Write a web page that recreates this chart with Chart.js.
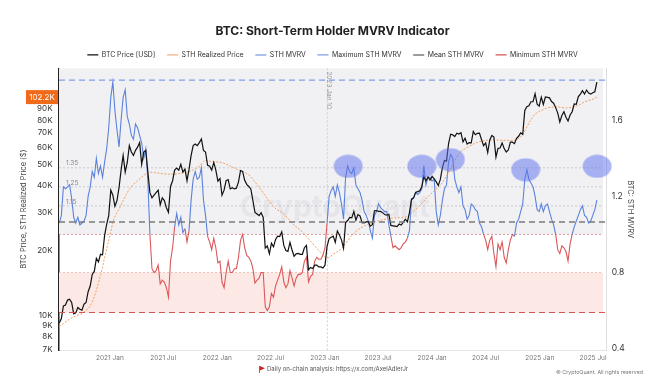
<!DOCTYPE html>
<html>
<head>
<meta charset="utf-8">
<script src="https://cdn.jsdelivr.net/npm/chart.js@4.4.1/dist/chart.umd.min.js"></script>
<style>
  html, body { margin: 0; padding: 0; background: #fff; }
  #wrap { width: 665px; height: 388px; }
</style>
</head>
<body>
<div id="wrap"><canvas id="mvrvChart" width="665" height="388"></canvas></div>
<script>
// === Data ===
// weekly samples (Mondays), first week 2020-07-13
const weekStart = '2020-07-13';

const btcPrice = [
  // 2020
  9250, 9700, 11100, 11200, 11800, 11900, 11500, 10200, 10300, 10900, 10700, 10600,
  11300, 11500, 12900, 13700, 15500, 16000, 18400, 17700, 19200, 19100, 23500, 26400, 29000,
  // 2021
  38000, 36000, 32000, 34000, 39000, 47000, 55000, 46000, 51000, 61000, 57000, 55000, 58000,
  60000, 63000, 50000, 57000, 58000, 46000, 37000, 35000, 36000, 37000, 38000, 32500, 35000,
  34000, 31500, 30000, 39500, 42000, 47000, 48000, 47000, 50000, 46000, 47500, 42000, 47500,
  55000, 61000, 62000, 61000, 63000, 65500, 58000, 57000, 49500, 49000, 47000, 51000, 47000,
  // 2022
  41800, 43000, 36000, 38000, 42000, 42500, 38500, 39000, 38500, 38800, 41500, 46800, 46400,
  42200, 40400, 39500, 38500, 34000, 30000, 29500, 29000, 29900, 28400, 20500, 21000, 19300,
  21600, 20800, 22500, 23300, 23200, 24400, 21100, 20000, 19800, 21800, 20100, 18800, 19300,
  19400, 19200, 19200, 20600, 21100, 16300, 16700, 16500, 17100, 17100, 16800, 16800, 16600,
  // 2023
  17100, 20900, 22700, 23000, 23300, 21800, 24600, 23600, 22400, 20500, 26900, 27500, 28400,
  28300, 30300, 27600, 29300, 28900, 26900, 26800, 27100, 27200, 25900, 26300, 30500, 30600,
  30300, 30300, 29900, 29300, 29100, 29400, 26100, 26000, 25900, 25800, 26500, 26200, 27000,
  27900, 27100, 29900, 34500, 35000, 37100, 37400, 37700, 39400, 44000, 41900, 43700, 42300,
  // 2024
  44000, 42800, 41500, 39900, 42600, 48300, 52100, 51700, 62400, 68900, 68400, 67200, 69600,
  69000, 70000, 63500, 66000, 62000, 63000, 62900, 71000, 68500, 69500, 69600, 65000, 61000,
  62800, 56700, 64800, 68000, 66800, 54000, 59300, 59500, 62800, 59100, 57000, 58200, 63300,
  63300, 62300, 66000, 67400, 69900, 68800, 88700, 92300, 93100, 97300, 97400, 106000, 94700, 92800,
  // 2025
  102100, 94500, 102300, 102000, 101400, 97500, 95800, 91400, 86200, 78500, 84000, 87500,
  82500, 79200, 84500, 87500, 95000, 94700, 102800, 105600, 109500, 105700, 110200, 106800,
  105500, 107100, 108200, 119800
];

const sthMvrv = [
  // 2020
  1.06, 1.10, 1.25, 1.24, 1.25, 1.26, 1.19, 1.09, 1.06, 1.09, 1.05, 1.06,
  1.07, 1.10, 1.20, 1.25, 1.33, 1.30, 1.40, 1.32, 1.36, 1.30, 1.38, 1.45, 1.56,
  // 2021
  1.72, 1.80, 1.65, 1.55, 1.46, 1.60, 1.72, 1.76, 1.62, 1.58, 1.52, 1.50, 1.58,
  1.56, 1.52, 1.48, 1.40, 1.45, 1.28, 1.00, 0.82, 0.80, 0.81, 0.84, 0.74, 0.76,
  0.75, 0.72, 0.67, 0.86, 0.93, 1.04, 1.11, 1.05, 1.09, 1.01, 1.03, 0.96, 1.02,
  1.18, 1.29, 1.33, 1.29, 1.30, 1.35, 1.18, 1.10, 0.99, 0.96, 0.92, 0.98, 0.93,
  // 2022
  0.85, 0.86, 0.75, 0.72, 0.80, 0.86, 0.80, 0.80, 0.82, 0.82, 0.88, 0.97, 1.00,
  0.93, 0.89, 0.88, 0.86, 0.82, 0.745, 0.76, 0.77, 0.80, 0.80, 0.62, 0.60, 0.62,
  0.69, 0.67, 0.73, 0.76, 0.79, 0.83, 0.75, 0.72, 0.74, 0.81, 0.77, 0.73, 0.77,
  0.79, 0.79, 0.80, 0.86, 0.88, 0.75, 0.78, 0.79, 0.86, 0.88, 0.87, 0.87, 0.89,
  // 2023
  0.93, 1.06, 1.20, 1.23, 1.25, 1.20, 1.26, 1.22, 1.16, 1.08, 1.30, 1.36, 1.33,
  1.32, 1.35, 1.26, 1.24, 1.22, 1.18, 1.12, 1.10, 1.07, 1.02, 0.98, 1.10, 1.12,
  1.16, 1.14, 1.13, 1.12, 1.12, 1.05, 0.99, 0.93, 0.94, 0.93, 0.92, 0.93, 0.95,
  0.96, 0.98, 1.02, 1.18, 1.19, 1.22, 1.21, 1.22, 1.24, 1.36, 1.26, 1.30, 1.30,
  // 2024
  1.28, 1.29, 1.12, 1.05, 1.10, 1.18, 1.24, 1.26, 1.38, 1.42, 1.40, 1.29, 1.25,
  1.22, 1.25, 1.15, 1.13, 1.08, 1.10, 1.16, 1.15, 1.13, 1.12, 1.06, 1.04, 1.00,
  0.97, 0.92, 0.97, 0.99, 0.90, 0.83, 0.95, 0.92, 0.96, 0.88, 0.85, 0.92, 0.97,
  1.00, 0.99, 1.06, 1.08, 1.12, 1.16, 1.29, 1.34, 1.29, 1.27, 1.25, 1.20, 1.13, 1.12,
  // 2025
  1.16, 1.12, 1.15, 1.16, 1.12, 1.08, 1.05, 1.00, 0.92, 0.90, 0.94, 0.93,
  0.91, 0.86, 0.95, 1.00, 1.04, 1.07, 1.10, 1.13, 1.15, 1.10, 1.09, 1.06,
  1.07, 1.10, 1.13, 1.18
];

const rpDates = [
  '2020-07-13', '2020-08-01', '2020-09-01', '2020-10-01', '2020-11-01', '2020-12-01', '2020-12-15',
  '2021-01-01', '2021-01-15', '2021-02-01', '2021-02-15', '2021-03-01', '2021-03-15', '2021-04-01',
  '2021-04-15', '2021-05-01', '2021-05-15', '2021-06-01', '2021-07-01', '2021-08-01', '2021-09-01',
  '2021-10-01', '2021-11-01', '2021-11-20', '2021-12-15', '2022-01-15', '2022-02-15', '2022-03-15',
  '2022-04-15', '2022-05-15', '2022-06-15', '2022-07-15', '2022-08-15', '2022-09-15', '2022-10-15',
  '2022-11-15', '2022-12-15', '2023-01-10', '2023-02-01', '2023-03-01', '2023-04-01', '2023-05-01',
  '2023-06-01', '2023-07-01', '2023-08-01', '2023-09-01', '2023-10-01', '2023-11-01', '2023-12-01',
  '2024-01-01', '2024-02-01', '2024-03-01', '2024-04-01', '2024-05-01', '2024-06-01', '2024-07-01',
  '2024-08-01', '2024-09-01', '2024-10-01', '2024-11-01', '2024-12-01', '2024-12-15', '2025-01-01',
  '2025-02-01', '2025-03-01', '2025-04-01', '2025-05-01', '2025-05-15', '2025-06-01', '2025-07-01',
  '2025-07-14'
];
const rpValues = [
  8900, 9300, 9900, 10300, 11500, 15500, 18800,
  23500, 28000, 31000, 34000, 37000, 39500, 41500,
  43200, 45000, 46000, 45800, 45200, 45000, 45500,
  46500, 49000, 52000, 51500, 51000, 49000, 47000,
  45000, 40500, 35500, 31500, 29500, 26500, 24500,
  22000, 19800, 18500, 19300, 20500, 23300, 25300,
  26500, 27400, 28000, 28300, 28500, 30500, 33500,
  37000, 40500, 47000, 56000, 60000, 63000, 64500,
  64800, 64500, 64500, 68000, 80000, 85000, 88000,
  91500, 92000, 91000, 92500, 94000, 97000, 100000,
  102200
];

// reference levels of STH MVRV
const maxMvrv = 1.81;
const meanMvrv = 1.065;
const minMvrv = 0.59;
const dottedLevels = [1.35, 1.25, 1.15];

// highlighted tops (date, mvrv)
const highlightDates = ['2023-03-22', '2023-11-27', '2024-03-03', '2024-11-14', '2025-07-15'];
const highlightValues = [1.358, 1.358, 1.393, 1.34, 1.358];

const markerDate = '2023-01-10';

const xTickDates = ['2021-01-01', '2021-07-01', '2022-01-01', '2022-07-01', '2023-01-01',
  '2023-07-01', '2024-01-01', '2024-07-01', '2025-01-01', '2025-07-01'];
const xTickLabels = ['2021 Jan', '2021 Jul', '2022 Jan', '2022 Jul', '2023 Jan',
  '2023 Jul', '2024 Jan', '2024 Jul', '2025 Jan', '2025 Jul'];
const priceTicks = [7000, 8000, 9000, 10000, 20000, 30000, 40000, 50000, 60000, 70000, 80000, 90000];
const mvrvTicks = [0.4, 0.8, 1.2, 1.6];

// === Preparation ===
const DAY = 86400000;
const t0 = Date.parse(weekStart);
const weekDates = btcPrice.map((_, i) => t0 + i * 7 * DAY);
const xMin = Date.parse('2020-07-12');
const xMax = Date.parse('2025-08-14');

const BLUE = '#5a82dc';
const RED = '#d9585a';

// ellipse used for the highlight marks
const ellipse = document.createElement('canvas');
ellipse.width = 30; ellipse.height = 24;
(() => {
  const c = ellipse.getContext('2d');
  c.fillStyle = 'rgba(92,112,236,0.5)';
  c.beginPath();
  c.ellipse(15, 12, 14.5, 11.5, 0, 0, Math.PI * 2);
  c.fill();
})();

// === Plugin: bands, dotted levels, watermark, labels ===
const decorPlugin = {
  id: 'decor',
  beforeDatasetsDraw(chart) {
    const { ctx, chartArea: a, scales } = chart;
    const yr = scales.y1;
    const py = v => yr.getPixelForValue(v);
    ctx.save();
    // gray band above 1.0
    ctx.fillStyle = '#f1f1f4';
    ctx.fillRect(a.left, a.top, a.right - a.left - 3, py(1.0) - a.top);
    // pink band between 0.8 and the minimum
    ctx.fillStyle = '#fce9e5';
    ctx.fillRect(a.left, py(0.8), a.right - a.left - 3, py(minMvrv) - py(0.8));

    ctx.lineWidth = 1;
    ctx.setLineDash([2, 2]);
    dottedLevels.forEach(v => {
      ctx.strokeStyle = '#c9c9ce';
      ctx.beginPath(); ctx.moveTo(a.left, py(v)); ctx.lineTo(a.right - 3, py(v)); ctx.stroke();
    });
    ctx.strokeStyle = '#e39a9a';
    ctx.beginPath(); ctx.moveTo(a.left, py(1.0)); ctx.lineTo(a.right - 3, py(1.0)); ctx.stroke();
    ctx.strokeStyle = '#eec3bb';
    ctx.beginPath(); ctx.moveTo(a.left, py(0.8)); ctx.lineTo(a.right - 3, py(0.8)); ctx.stroke();

    // vertical marker 2023 Jan 10
    const mx = scales.x.getPixelForValue(Date.parse(markerDate));
    ctx.strokeStyle = '#cfcfcf';
    ctx.beginPath(); ctx.moveTo(mx, a.top); ctx.lineTo(mx, a.bottom); ctx.stroke();
    ctx.setLineDash([]);

    ctx.fillStyle = '#8a8a8a';
    ctx.font = '6.5px Inter';
    ctx.textAlign = 'left';
    ctx.textBaseline = 'bottom';
    dottedLevels.forEach(v => ctx.fillText(v.toFixed(2), a.left + 7, py(v) - 1));

    ctx.save();
    ctx.translate(mx + 2, a.top + 3);
    ctx.rotate(Math.PI / 2);
    ctx.textBaseline = 'middle';
    ctx.fillStyle = '#999';
    ctx.fillText('2023 Jan 10', 0, 0);
    ctx.restore();

    // watermark
    ctx.font = 'bold 30px Inter';
    ctx.fillStyle = 'rgba(175,175,185,0.17)';
    ctx.textAlign = 'center';
    ctx.textBaseline = 'middle';
    ctx.fillText('CryptoQuant', 335, 208);
    ctx.restore();
  },
  afterDraw(chart) {
    const { ctx, scales } = chart;
    ctx.save();
    // current STH realized price tag
    const last = rpValues[rpValues.length - 1];
    const ty = scales.y.getPixelForValue(last);
    ctx.fillStyle = '#f06a1a';
    ctx.fillRect(26, ty - 7, 32, 14);
    ctx.fillStyle = '#fff';
    ctx.font = '8px Inter';
    ctx.textAlign = 'center';
    ctx.textBaseline = 'middle';
    ctx.fillText((last / 1000).toFixed(1) + 'K', 42, ty + 0.5);

    // footer
    ctx.fillStyle = '#d02020';
    ctx.fillRect(259, 366, 0.8, 7);
    ctx.beginPath(); ctx.moveTo(259.8, 366); ctx.lineTo(265, 368.2); ctx.lineTo(259.8, 370.4); ctx.fill();
    ctx.fillStyle = '#555';
    ctx.font = '6px Inter';
    ctx.textAlign = 'left';
    ctx.fillText('Daily on-chain analysis: https://x.com/AxelAdlerJr', 267, 369.5);
    ctx.fillStyle = '#777';
    ctx.font = '5.3px Inter';
    ctx.fillText('© CryptoQuant. All rights reserved', 556, 372);
    ctx.restore();
  }
};

Chart.defaults.font.family = 'Inter, Roboto, sans-serif';

new Chart(document.getElementById('mvrvChart'), {
  type: 'line',
  data: {
    datasets: [
      {
        label: 'BTC Price [USD]',
        data: btcPrice.map((v, i) => ({ x: weekDates[i], y: v })),
        yAxisID: 'y',
        borderColor: '#111',
        borderWidth: 1.2,
        pointRadius: 0,
        pointStyle: 'line',
        order: 2
      },
      {
        label: 'STH Realized Price',
        data: rpValues.map((v, i) => ({ x: Date.parse(rpDates[i]), y: v })),
        yAxisID: 'y',
        borderColor: '#f0a062',
        borderWidth: 1,
        borderDash: [2, 1.5],
        pointRadius: 0,
        pointStyle: 'line',
        cubicInterpolationMode: 'monotone',
        order: 3
      },
      {
        label: 'STH MVRV',
        data: sthMvrv.map((v, i) => ({ x: weekDates[i], y: v })),
        yAxisID: 'y1',
        borderColor: BLUE,
        borderWidth: 1.1,
        pointRadius: 0,
        pointStyle: 'line',
        segment: {
          borderColor: c => ((c.p0.parsed.y + c.p1.parsed.y) / 2 < 1 ? RED : BLUE)
        },
        order: 4
      },
      {
        label: 'Maximum STH MVRV',
        data: [{ x: xMin, y: maxMvrv }, { x: xMax, y: maxMvrv }],
        yAxisID: 'y1',
        borderColor: '#7f9fe6',
        borderWidth: 1.2,
        borderDash: [6, 4],
        pointRadius: 0,
        pointStyle: 'line',
        order: 1
      },
      {
        label: 'Mean STH MVRV',
        data: [{ x: xMin, y: meanMvrv }, { x: xMax, y: meanMvrv }],
        yAxisID: 'y1',
        borderColor: '#7a7a7a',
        borderWidth: 1.5,
        borderDash: [6, 4],
        pointRadius: 0,
        pointStyle: 'line',
        order: 1
      },
      {
        label: 'Minimum STH MVRV',
        data: [{ x: xMin, y: minMvrv }, { x: xMax, y: minMvrv }],
        yAxisID: 'y1',
        borderColor: '#d45656',
        borderWidth: 1.2,
        borderDash: [6, 4],
        pointRadius: 0,
        pointStyle: 'line',
        order: 1
      },
      {
        label: 'highlight',
        type: 'scatter',
        data: highlightValues.map((v, i) => ({ x: Date.parse(highlightDates[i]), y: v })),
        yAxisID: 'y1',
        pointStyle: ellipse,
        pointRadius: 12,
        clip: false,
        order: 0
      }
    ]
  },
  options: {
    responsive: false,
    animation: false,
    events: [],
    layout: { padding: 0 },
    plugins: {
      title: {
        display: true,
        text: 'BTC: Short-Term Holder MVRV Indicator',
        color: '#222',
        font: { size: 12, weight: 'bold' },
        padding: { top: 23.8, bottom: 1.6 }
      },
      legend: {
        display: true,
        labels: {
          usePointStyle: true,
          pointStyleWidth: 11,
          color: '#333',
          font: { size: 6.9 },
          padding: 11.7,
          filter: item => item.text !== 'highlight',
          sort: (a, b) => a.datasetIndex - b.datasetIndex
        }
      },
      tooltip: { enabled: false }
    },
    scales: {
      x: {
        type: 'linear',
        min: xMin,
        max: xMax,
        afterFit: s => { s.height = 38; },
        afterBuildTicks: s => { s.ticks = xTickDates.map(d => ({ value: Date.parse(d) })); },
        grid: { display: false, drawTicks: false, tickLength: 0 },
        border: { color: '#e3e3e3' },
        ticks: {
          autoSkip: false,
          maxRotation: 0,
          padding: 4,
          color: '#777',
          font: { size: 6.5 },
          callback: (v, i) => xTickLabels[i]
        }
      },
      y: {
        type: 'logarithmic',
        position: 'left',
        min: 6940,
        max: 138700,
        afterFit: s => { s.width = 59; },
        afterBuildTicks: s => { s.ticks = priceTicks.map(v => ({ value: v })); },
        grid: { display: false, drawTicks: false, tickLength: 0 },
        border: { color: '#222', width: 1.5 },
        ticks: {
          padding: 6.5,
          color: '#333',
          font: { size: 8 },
          callback: v => (v / 1000) + 'K'
        },
        title: {
          display: true,
          text: 'BTC Price, STH Realized Price ($)',
          color: '#444',
          font: { size: 7.5 },
          padding: { top: 19.5 }
        }
      },
      y1: {
        type: 'linear',
        position: 'right',
        min: 0.393,
        max: 1.872,
        afterFit: s => { s.width = 59; },
        afterBuildTicks: s => { s.ticks = mvrvTicks.map(v => ({ value: v })); },
        grid: { display: false, drawTicks: false, tickLength: 0 },
        border: { color: '#dedede' },
        ticks: {
          padding: 5.7,
          color: '#333',
          font: { size: 8.5 },
          callback: v => v.toFixed(1)
        },
        title: {
          display: true,
          text: 'BTC: STH MVRV',
          color: '#444',
          font: { size: 7.5 },
          padding: { top: 30.5 }
        }
      }
    }
  },
  plugins: [decorPlugin]
});
</script>
</body>
</html>
